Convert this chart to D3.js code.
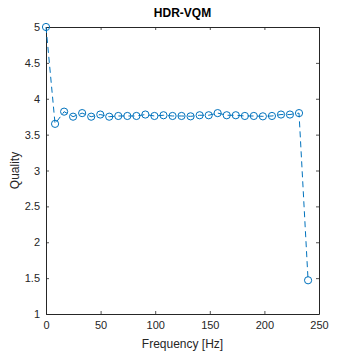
<!DOCTYPE html>
<html>
<head>
<meta charset="utf-8">
<script src="https://cdn.jsdelivr.net/npm/d3@7"></script>
<style>
  body { margin: 0; background: #fff; }
  text { font-family: "Liberation Sans", Arial, sans-serif; }
</style>
</head>
<body>
<div id="chart"></div>
<script>
// frequency samples [Hz]
const freqs = [0, 8.3, 16.6, 24.8, 33.1, 41.4, 49.7, 57.9, 66.2, 74.5,
    82.8, 91.0, 99.3, 107.6, 115.9, 124.1, 132.4, 140.7, 149.0, 157.2,
    165.5, 173.8, 182.1, 190.3, 198.6, 206.9, 215.2, 223.4, 231.7, 240];
// HDR-VQM quality
const quality = [5.0, 3.65, 3.82, 3.75, 3.80, 3.75, 3.78, 3.75, 3.76, 3.76,
    3.76, 3.78, 3.76, 3.77, 3.76, 3.76, 3.755, 3.77, 3.77, 3.80,
    3.77, 3.77, 3.76, 3.76, 3.755, 3.76, 3.78, 3.78, 3.80, 1.47];
const xTicks = [0, 50, 100, 150, 200, 250];
const yTicks = [1, 1.5, 2, 2.5, 3, 3.5, 4, 4.5, 5];

const data = freqs.map(function(f, i) { return {f: f, q: quality[i]}; });

const width = 354, height = 354;
const margin = {left: 46, right: 35, top: 27, bottom: 40};
const axisColor = "#262626";
const lineColor = "#0072bd";
const fmt = function(d) { return String(d); };

const svg = d3.select("#chart").append("svg")
    .attr("width", width)
    .attr("height", height);

const x = d3.scaleLinear().domain([0, 250]).range([margin.left, width - margin.right]);
const y = d3.scaleLinear().domain([1, 5]).range([height - margin.bottom, margin.top]);

const tickLen = 3;

// bottom axis
svg.append("g")
    .attr("transform", "translate(0," + y(1) + ")")
    .call(d3.axisBottom(x).tickValues(xTicks).tickFormat(fmt).tickSize(-tickLen).tickPadding(7).tickSizeOuter(0));
// top axis (ticks only)
svg.append("g")
    .attr("transform", "translate(0," + y(5) + ")")
    .call(d3.axisTop(x).tickValues(xTicks).tickSize(-tickLen).tickFormat("").tickSizeOuter(0));
// left axis
svg.append("g")
    .attr("transform", "translate(" + x(0) + ",0)")
    .call(d3.axisLeft(y).tickValues(yTicks).tickFormat(fmt).tickSize(-tickLen).tickPadding(6).tickSizeOuter(0));
// right axis (ticks only)
svg.append("g")
    .attr("transform", "translate(" + x(250) + ",0)")
    .call(d3.axisRight(y).tickValues(yTicks).tickSize(-tickLen).tickFormat("").tickSizeOuter(0));

svg.selectAll(".domain").attr("stroke", axisColor).attr("stroke-width", 1);
svg.selectAll(".tick line").attr("stroke", axisColor).attr("stroke-width", 0.8);
svg.selectAll(".tick text")
    .attr("fill", axisColor)
    .style("font-family", "'Liberation Sans', Arial, sans-serif")
    .style("font-size", "11px");

// data line
const line = d3.line()
    .x(function(d) { return x(d.f); })
    .y(function(d) { return y(d.q); });

svg.append("path")
    .datum(data)
    .attr("d", line)
    .attr("fill", "none")
    .attr("stroke", lineColor)
    .attr("stroke-width", 1)
    .attr("stroke-dasharray", "6,4");

svg.append("g")
    .selectAll("circle")
    .data(data)
    .join("circle")
    .attr("cx", function(d) { return x(d.f); })
    .attr("cy", function(d) { return y(d.q); })
    .attr("r", 3.6)
    .attr("fill", "none")
    .attr("stroke", lineColor)
    .attr("stroke-width", 1);

// title and labels
svg.append("text")
    .attr("x", (x(0) + x(250)) / 2)
    .attr("y", 17)
    .attr("text-anchor", "middle")
    .attr("font-size", "12px")
    .attr("font-weight", "bold")
    .attr("fill", "#000")
    .text("HDR-VQM");

svg.append("text")
    .attr("x", (x(0) + x(250)) / 2)
    .attr("y", 348)
    .attr("text-anchor", "middle")
    .attr("font-size", "12px")
    .attr("fill", axisColor)
    .text("Frequency [Hz]");

svg.append("text")
    .attr("transform", "translate(19," + ((y(1) + y(5)) / 2) + ") rotate(-90)")
    .attr("text-anchor", "middle")
    .attr("font-size", "12px")
    .attr("fill", axisColor)
    .text("Quality");
</script>
</body>
</html>
